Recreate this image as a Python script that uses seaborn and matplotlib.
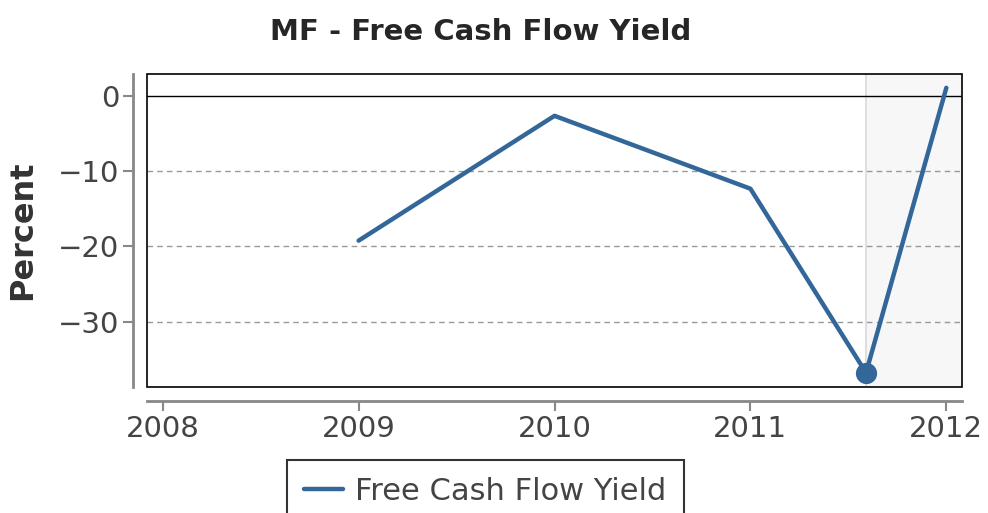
import numpy as np
import pandas as pd
import seaborn as sb
import matplotlib.pyplot as plt
from matplotlib.patches import Rectangle

# values
Years = [2009.0, 2010.0, 2011.0, 2011.59, 2012.0]
Yield = [-19.25, -2.66, -12.35, -36.8, 1.06]
HighlightYear = [2011.59]
HighlightYield = [-36.8]
XTicks = [2008, 2009, 2010, 2011, 2012]
YTicks = [0, -10, -20, -30]

Data = pd.DataFrame({'Year': Years, 'Free Cash Flow Yield': Yield})
Point = pd.DataFrame({'Year': HighlightYear, 'Yield': HighlightYield})

sb.set_style("white")
plt.rcParams['font.family'] = ['DejaVu Sans']

LineColour = '#336699'
TextColour = '#444444'
SpineColour = '#888888'

fig = plt.figure(figsize=(9.88, 5.13), dpi=100)
ax = fig.add_axes([0.1488, 0.2456, 0.8249, 0.6102])

# shaded projection area
ax.axvspan(HighlightYear[0], 2012.08, color='#f7f7f7', zorder=0)
ax.axvline(HighlightYear[0], color='#d9d9d9', lw=1.2, zorder=1)

for y in YTicks[1:]:
    ax.axhline(y, color='#999999', lw=1, ls=(0, (4, 3)), zorder=1)
ax.axhline(0, color='black', lw=1, zorder=1)

sb.lineplot(data=Data, x='Year', y='Free Cash Flow Yield', ax=ax, color=LineColour,
            lw=3.2, label='Free Cash Flow Yield', legend=False, zorder=3)
sb.scatterplot(data=Point, x='Year', y='Yield', ax=ax, color=LineColour, s=200,
               edgecolor=LineColour, legend=False, zorder=4)

ax.set(xlim=(2007.92, 2012.08), ylim=(-38.7, 2.9), xlabel='')
ax.set_xticks(XTicks)
ax.set_xticklabels([str(x) for x in XTicks])
ax.set_yticks(YTicks)
ax.set_yticklabels(['0' if v == 0 else '\u2212' + str(-v) for v in YTicks])
ax.set_ylabel('Percent', fontsize=23, fontweight='bold', color='#333333', labelpad=14)

ax.tick_params(axis='both', labelsize=21, colors=SpineColour, labelcolor=TextColour,
               length=7, width=1.5, direction='out', bottom=True, left=True, pad=3)

# offset grey spines, black frame round the plot area
for side in ['left', 'bottom']:
    ax.spines[side].set_position(('outward', 10))
    ax.spines[side].set_color(SpineColour)
    ax.spines[side].set_linewidth(2)
for side in ['top', 'right']:
    ax.spines[side].set_visible(False)
ax.add_patch(Rectangle((0, 0), 1, 1, transform=ax.transAxes, fill=False,
                       edgecolor='black', lw=1.2, zorder=5, clip_on=False))

fig.suptitle('MF - Free Cash Flow Yield', fontsize=21, fontweight='bold', x=0.487, y=0.965)

Legend = fig.legend(*ax.get_legend_handles_labels(), loc='upper center',
                    bbox_to_anchor=(0.491, 0.103), borderaxespad=0, fontsize=22,
                    frameon=True, fancybox=False, edgecolor='black', handlelength=1.3,
                    borderpad=0.55, handletextpad=0.4)
Legend.get_frame().set_linewidth(1.5)
for t in Legend.get_texts():
    t.set_color(TextColour)

fig.savefig('out.png', dpi=100)
